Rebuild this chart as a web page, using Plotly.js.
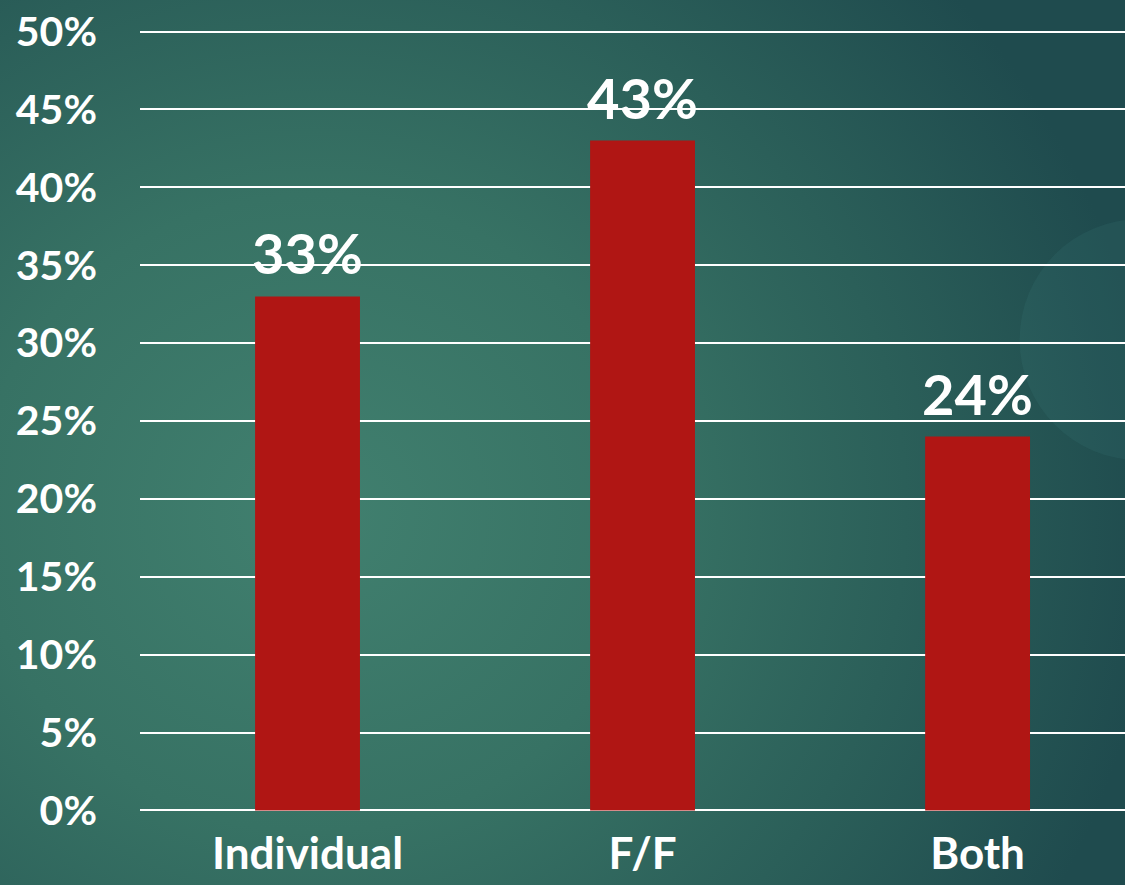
<!DOCTYPE html>
<html>
<head>
<meta charset="utf-8">
<script src="https://cdn.plot.ly/plotly-3.0.1.min.js"></script>
<style>
  html, body { margin:0; padding:0; width:1125px; height:885px; overflow:hidden; }
  body {
    background:
      radial-gradient(ellipse 75% 90% at 28% 58%, #41806f 0%, #377264 40%, #2b5f59 70%, #1f4b4e 100%);
  }
  #chart { width:1125px; height:885px; }
</style>
</head>
<body>
<div id="chart"></div>
<script>
const categories = ["Individual", "F/F", "Both"];
const values = [33, 43, 24];
const tickValues = [0, 5, 10, 15, 20, 25, 30, 35, 40, 45, 50];
const tickLabels = ["0%", "5%", "10%", "15%", "20%", "25%", "30%", "35%", "40%", "45%", "50%"];

const fontFam = "Lato, 'Open Sans', sans-serif";

const trace = {
  type: "bar",
  x: categories,
  y: values,
  width: 0.313,
  marker: { color: "#b01614" },
  hoverinfo: "skip"
};

const labelAnnotations = categories.map((c, i) => ({
  x: c, y: values[i], xref: "x", yref: "y",
  text: values[i] + "%",
  showarrow: false,
  yanchor: "bottom",
  yshift: 8,
  font: { family: fontFam, size: 56, color: "#ffffff", weight: 700 }
}));

const layout = {
  width: 1125,
  height: 885,
  margin: { l: 140, r: 0, t: 30, b: 73, pad: 0 },
  paper_bgcolor: "rgba(0,0,0,0)",
  plot_bgcolor: "rgba(0,0,0,0)",
  showlegend: false,
  font: { family: fontFam, color: "#ffffff" },
  xaxis: {
    range: [-0.5, 2.44],
    showgrid: false,
    zeroline: false,
    showline: false,
    ticks: "",
    ticklabelstandoff: 12,
    tickfont: { family: fontFam, size: 44, color: "#ffffff", weight: 700 },
    fixedrange: true
  },
  yaxis: {
    range: [-0.1, 50.1],
    tickvals: tickValues,
    ticktext: tickLabels,
    showgrid: true,
    gridcolor: "#ffffff",
    gridwidth: 2,
    zeroline: false,
    showline: false,
    ticks: "",
    ticklabelstandoff: 42,
    tickfont: { family: fontFam, size: 41, color: "#ffffff", weight: 700 },
    fixedrange: true
  },
  annotations: labelAnnotations,
  shapes: [{
    type: "circle",
    xref: "paper", yref: "paper",
    x0: 0.893, x1: 1.137, y0: 0.45, y1: 0.758,
    fillcolor: "rgba(70,140,140,0.13)",
    line: { width: 0 },
    layer: "below"
  }]
};

Plotly.newPlot("chart", [trace], layout, { displayModeBar: false, staticPlot: true });
</script>
</body>
</html>
